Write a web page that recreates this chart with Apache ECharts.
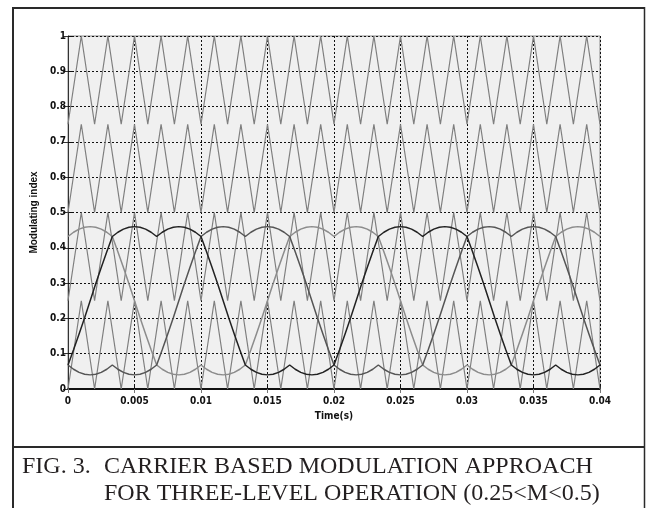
<!DOCTYPE html>
<html>
<head>
<meta charset="utf-8">
<title>Carrier based modulation, three-level operation</title>
<script src="https://cdn.jsdelivr.net/npm/echarts@6/dist/echarts.min.js"></script>
<style>
  html, body { margin: 0; padding: 0; background: #ffffff; }
  #chart { width: 646px; height: 508px; }
</style>
</head>
<body>
<div id="chart"></div>
<script>
// Carrier vertex times (ms) and the four level-shifted triangular carriers
const carrierTimeMs = [0,1,2,3,4,5,6,7,8,9,10,11,12,13,14,15,16,17,18,19,20,
  21,22,23,24,25,26,27,28,29,30,31,32,33,34,35,36,37,38,39,40];
const carrier1 = [0,0.25,0,0.25,0,0.25,0,0.25,0,0.25,0,0.25,0,0.25,0,0.25,0,0.25,0,0.25,0,
  0.25,0,0.25,0,0.25,0,0.25,0,0.25,0,0.25,0,0.25,0,0.25,0,0.25,0,0.25,0];
const carrier2 = [0.25,0.5,0.25,0.5,0.25,0.5,0.25,0.5,0.25,0.5,0.25,0.5,0.25,0.5,0.25,0.5,0.25,0.5,0.25,0.5,0.25,
  0.5,0.25,0.5,0.25,0.5,0.25,0.5,0.25,0.5,0.25,0.5,0.25,0.5,0.25,0.5,0.25,0.5,0.25,0.5,0.25];
const carrier3 = [0.5,0.75,0.5,0.75,0.5,0.75,0.5,0.75,0.5,0.75,0.5,0.75,0.5,0.75,0.5,0.75,0.5,0.75,0.5,0.75,0.5,
  0.75,0.5,0.75,0.5,0.75,0.5,0.75,0.5,0.75,0.5,0.75,0.5,0.75,0.5,0.75,0.5,0.75,0.5,0.75,0.5];
const carrier4 = [0.75,1,0.75,1,0.75,1,0.75,1,0.75,1,0.75,1,0.75,1,0.75,1,0.75,1,0.75,1,0.75,
  1,0.75,1,0.75,1,0.75,1,0.75,1,0.75,1,0.75,1,0.75,1,0.75,1,0.75,1,0.75];

// Sample times (ms) of the three modulating signals
const signalTimeMs = [
  0,0.417,0.833,1.25,1.667,2.083,2.5,2.917,3.333,3.75,4.167,4.583,
  5,5.417,5.833,6.25,6.667,7.083,7.5,7.917,8.333,8.75,9.167,9.583,
  10,10.417,10.833,11.25,11.667,12.083,12.5,12.917,13.333,13.75,14.167,14.583,
  15,15.417,15.833,16.25,16.667,17.083,17.5,17.917,18.333,18.75,19.167,19.583,
  20,20.417,20.833,21.25,21.667,22.083,22.5,22.917,23.333,23.75,24.167,24.583,
  25,25.417,25.833,26.25,26.667,27.083,27.5,27.917,28.333,28.75,29.167,29.583,
  30,30.417,30.833,31.25,31.667,32.083,32.5,32.917,33.333,33.75,34.167,34.583,
  35,35.417,35.833,36.25,36.667,37.083,37.5,37.917,38.333,38.75,39.167,39.583,
  40];

// Phase A (light grey)
const phaseA = [
  0.432,0.444,0.453,0.458,0.460,0.458,0.453,0.444,0.432,0.389,0.344,0.298,
  0.250,0.202,0.156,0.111,0.068,0.056,0.047,0.042,0.040,0.042,0.047,0.056,
  0.068,0.056,0.047,0.042,0.040,0.042,0.047,0.056,0.068,0.111,0.156,0.202,
  0.250,0.298,0.344,0.389,0.432,0.444,0.453,0.458,0.460,0.458,0.453,0.444,
  0.432,0.444,0.453,0.458,0.460,0.458,0.453,0.444,0.432,0.389,0.344,0.298,
  0.250,0.202,0.156,0.111,0.068,0.056,0.047,0.042,0.040,0.042,0.047,0.056,
  0.068,0.056,0.047,0.042,0.040,0.042,0.047,0.056,0.068,0.111,0.156,0.202,
  0.250,0.298,0.344,0.389,0.432,0.444,0.453,0.458,0.460,0.458,0.453,0.444,
  0.432];

// Phase B (black)
const phaseB = [
  0.068,0.111,0.156,0.202,0.250,0.298,0.344,0.389,0.432,0.444,0.453,0.458,
  0.460,0.458,0.453,0.444,0.432,0.444,0.453,0.458,0.460,0.458,0.453,0.444,
  0.432,0.389,0.344,0.298,0.250,0.202,0.156,0.111,0.068,0.056,0.047,0.042,
  0.040,0.042,0.047,0.056,0.068,0.056,0.047,0.042,0.040,0.042,0.047,0.056,
  0.068,0.111,0.156,0.202,0.250,0.298,0.344,0.389,0.432,0.444,0.453,0.458,
  0.460,0.458,0.453,0.444,0.432,0.444,0.453,0.458,0.460,0.458,0.453,0.444,
  0.432,0.389,0.344,0.298,0.250,0.202,0.156,0.111,0.068,0.056,0.047,0.042,
  0.040,0.042,0.047,0.056,0.068,0.056,0.047,0.042,0.040,0.042,0.047,0.056,
  0.068];

// Phase C (dark grey)
const phaseC = [
  0.068,0.056,0.047,0.042,0.040,0.042,0.047,0.056,0.068,0.056,0.047,0.042,
  0.040,0.042,0.047,0.056,0.068,0.111,0.156,0.202,0.250,0.298,0.344,0.389,
  0.432,0.444,0.453,0.458,0.460,0.458,0.453,0.444,0.432,0.444,0.453,0.458,
  0.460,0.458,0.453,0.444,0.432,0.389,0.344,0.298,0.250,0.202,0.156,0.111,
  0.068,0.056,0.047,0.042,0.040,0.042,0.047,0.056,0.068,0.056,0.047,0.042,
  0.040,0.042,0.047,0.056,0.068,0.111,0.156,0.202,0.250,0.298,0.344,0.389,
  0.432,0.444,0.453,0.458,0.460,0.458,0.453,0.444,0.432,0.444,0.453,0.458,
  0.460,0.458,0.453,0.444,0.432,0.389,0.344,0.298,0.250,0.202,0.156,0.111,
  0.068];

const xTicks = [0, 0.005, 0.01, 0.015, 0.02, 0.025, 0.03, 0.035, 0.04];
const yTicks = [0, 0.1, 0.2, 0.3, 0.4, 0.5, 0.6, 0.7, 0.8, 0.9, 1];

const captionLine1Head = 'FIG. 3.';
const captionLine1 = 'CARRIER BASED MODULATION APPROACH';
const captionLine2 = 'FOR THREE-LEVEL OPERATION (0.25<M<0.5)';

function pairs(timesMs, values) {
  return values.map((v, i) => [timesMs[i] / 1000, v]);
}

const tickFont = '"Liberation Sans Narrow", "DejaVu Sans Condensed", "Liberation Sans", sans-serif';
const dotted = { color: '#111111', width: 1, type: [2, 2] };

const carrierStyle = { color: '#7f7f7f', width: 1.2 };
function carrierSeries(values) {
  return {
    type: 'line', data: pairs(carrierTimeMs, values), showSymbol: false,
    lineStyle: carrierStyle, z: 2, silent: true
  };
}
function phaseSeries(values, color) {
  return {
    type: 'line', data: pairs(signalTimeMs, values), showSymbol: false,
    lineStyle: { color: color, width: 1.5 }, z: 3, silent: true
  };
}

const chart = echarts.init(document.getElementById('chart'), null, { renderer: 'canvas' });
chart.setOption({
  animation: false,
  backgroundColor: '#ffffff',
  grid: {
    left: 68, right: 46, top: 36, bottom: 119,
    show: true, backgroundColor: '#f0f0f0', borderColor: '#8a8a8a', borderWidth: 1
  },
  xAxis: [{
    type: 'value', min: 0, max: 0.04, interval: 0.005,
    name: 'Time(s)', nameLocation: 'middle', nameGap: 22,
    nameTextStyle: { fontFamily: tickFont, fontSize: 10, fontWeight: 'bold', color: '#111' },
    axisLine: { show: true, lineStyle: { color: '#111', width: 2 } },
    axisTick: { show: true, inside: true, length: 5, lineStyle: { color: '#111' } },
    axisLabel: {
      margin: 7, fontFamily: tickFont, fontSize: 10, fontWeight: 'bold', color: '#111',
      customValues: xTicks, formatter: v => String(+v.toFixed(3))
    },
    splitLine: { show: true, lineStyle: dotted }
  }, {
    type: 'value', min: 0, max: 0.04, interval: 0.005, position: 'top',
    axisLine: { show: false },
    axisTick: { show: true, inside: true, length: 4, lineStyle: { color: '#777' } },
    axisLabel: { show: false }, splitLine: { show: false }
  }],
  yAxis: [{
    type: 'value', min: 0, max: 1, interval: 0.1,
    name: 'Modulating index', nameLocation: 'middle', nameGap: 13,
    nameTextStyle: { fontFamily: '"Liberation Sans", sans-serif', fontSize: 10, fontWeight: 'bold', color: '#111' },
    axisLine: { show: true, lineStyle: { color: '#333', width: 1 } },
    axisTick: { show: true, inside: true, length: 5, lineStyle: { color: '#111' } },
    axisLabel: {
      margin: 2, fontFamily: tickFont, fontSize: 10, fontWeight: 'bold', color: '#111',
      customValues: yTicks, formatter: v => String(+v.toFixed(1))
    },
    splitLine: { show: true, lineStyle: dotted }
  }, {
    type: 'value', min: 0, max: 1, interval: 0.1, position: 'right',
    axisLine: { show: false },
    axisTick: { show: true, inside: true, length: 5, lineStyle: { color: '#333' } },
    axisLabel: { show: false }, splitLine: { show: false }
  }],
  series: [
    carrierSeries(carrier1),
    carrierSeries(carrier2),
    carrierSeries(carrier3),
    carrierSeries(carrier4),
    phaseSeries(phaseA, '#8c8c8c'),
    phaseSeries(phaseC, '#555555'),
    phaseSeries(phaseB, '#222222')
  ],
  graphic: [
    // outer frame of the figure and the caption divider
    { type: 'line', shape: { x1: 13, y1: 8, x2: 645, y2: 8 }, style: { stroke: '#2a2a2a', lineWidth: 2 }, silent: true },
    { type: 'line', shape: { x1: 13, y1: 7, x2: 13, y2: 508 }, style: { stroke: '#2a2a2a', lineWidth: 2 }, silent: true },
    { type: 'line', shape: { x1: 644.5, y1: 7, x2: 644.5, y2: 508 }, style: { stroke: '#2a2a2a', lineWidth: 1.5 }, silent: true },
    { type: 'line', shape: { x1: 13, y1: 447, x2: 645, y2: 447 }, style: { stroke: '#2a2a2a', lineWidth: 2 }, silent: true },
    {
      type: 'text', left: 22, top: 455, silent: true,
      style: { text: captionLine1Head, font: '24px "Liberation Serif", "Times New Roman", serif', fill: '#231f20' }
    },
    {
      type: 'text', left: 104, top: 455, silent: true,
      style: { text: captionLine1, font: '24px "Liberation Serif", "Times New Roman", serif', fill: '#231f20' }
    },
    {
      type: 'text', left: 104, top: 482, silent: true,
      style: { text: captionLine2, font: '24px "Liberation Serif", "Times New Roman", serif', fill: '#231f20' }
    }
  ]
});
</script>
</body>
</html>
